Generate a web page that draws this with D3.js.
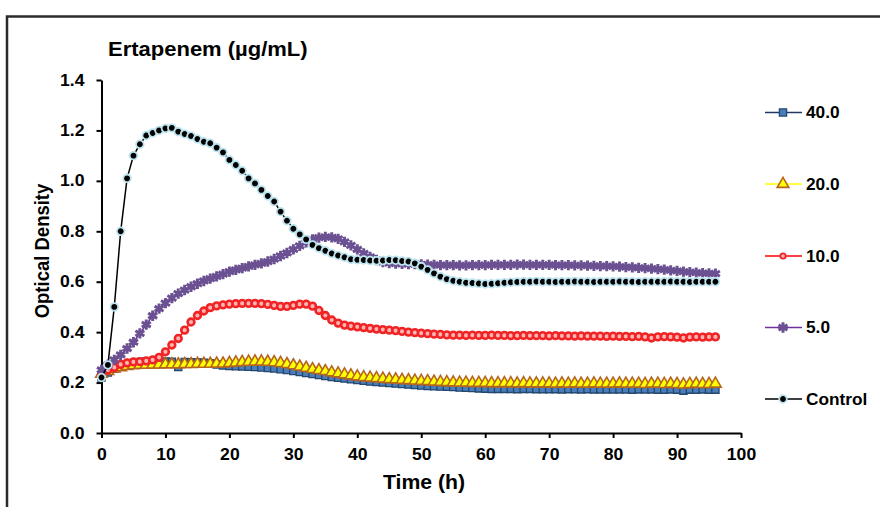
<!DOCTYPE html>
<html>
<head>
<meta charset="utf-8">
<script src="https://cdn.jsdelivr.net/npm/d3@7"></script>
<style>
  body { margin: 0; background: #fff; }
  text { font-family: "Liberation Sans", Arial, sans-serif; font-weight: bold; fill: #000; }
</style>
</head>
<body>
<div id="chart"></div>
<script>
// data, one reading per hour
const hours = [0,1,2,3,4,5,6,7,8,9,10,11,12,13,14,15,16,17,18,19,20,21,22,23,24,25,26,27,28,29,
  30,31,32,33,34,35,36,37,38,39,40,41,42,43,44,45,46,47,48,49,50,51,52,53,54,55,56,57,58,59,
  60,61,62,63,64,65,66,67,68,69,70,71,72,73,74,75,76,77,78,79,80,81,82,83,84,85,86,87,88,89,
  90,91,92,93,94,95,96];

const od40 = [0.22,0.24,0.255,0.265,0.272,0.278,0.282,0.284,0.285,0.285,
  0.284,0.283,0.262,0.282,0.281,0.28,0.279,0.277,0.272,0.268,
  0.266,0.265,0.264,0.263,0.262,0.26,0.258,0.256,0.253,0.25,
  0.246,0.242,0.238,0.234,0.23,0.226,0.222,0.219,0.216,0.213,
  0.21,0.207,0.204,0.202,0.2,0.198,0.196,0.194,0.192,0.19,
  0.188,0.186,0.185,0.184,0.183,0.182,0.18,0.179,0.178,0.177,
  0.176,0.175,0.175,0.175,0.175,0.174,0.175,0.175,0.174,0.174,
  0.174,0.174,0.173,0.174,0.174,0.173,0.174,0.173,0.173,0.173,
  0.173,0.173,0.173,0.172,0.173,0.173,0.173,0.172,0.172,0.173,
  0.172,0.168,0.172,0.172,0.173,0.172,0.172];

const od20 = [0.235,0.245,0.255,0.26,0.265,0.268,0.27,0.27,0.271,0.271,
  0.272,0.272,0.272,0.273,0.273,0.274,0.274,0.274,0.275,0.275,
  0.277,0.279,0.281,0.282,0.283,0.283,0.282,0.28,0.277,0.273,
  0.268,0.263,0.258,0.253,0.249,0.245,0.24,0.236,0.232,0.228,
  0.224,0.221,0.219,0.217,0.215,0.213,0.212,0.21,0.209,0.207,
  0.206,0.205,0.203,0.202,0.201,0.2,0.199,0.199,0.198,0.198,
  0.198,0.197,0.197,0.197,0.197,0.196,0.197,0.196,0.196,0.196,
  0.196,0.195,0.196,0.195,0.196,0.195,0.195,0.196,0.195,0.195,
  0.195,0.196,0.195,0.195,0.195,0.194,0.195,0.195,0.194,0.195,
  0.194,0.192,0.194,0.195,0.194,0.194,0.195];

const od10 = [0.23,0.25,0.26,0.272,0.278,0.282,0.283,0.286,0.29,0.30,
  0.322,0.349,0.375,0.408,0.44,0.466,0.484,0.497,0.504,0.508,
  0.511,0.513,0.514,0.514,0.514,0.513,0.51,0.506,0.502,0.502,
  0.506,0.511,0.511,0.503,0.486,0.466,0.448,0.436,0.428,0.424,
  0.421,0.418,0.415,0.412,0.41,0.408,0.406,0.403,0.40,0.398,
  0.396,0.394,0.392,0.391,0.389,0.388,0.388,0.387,0.388,0.387,
  0.387,0.388,0.387,0.387,0.386,0.386,0.387,0.386,0.386,0.386,
  0.385,0.386,0.385,0.385,0.384,0.385,0.384,0.384,0.384,0.383,
  0.384,0.383,0.383,0.382,0.383,0.381,0.377,0.381,0.382,0.381,
  0.38,0.377,0.38,0.381,0.38,0.381,0.381];

const od5 = [0.25,0.27,0.29,0.31,0.335,0.36,0.395,0.43,0.465,0.493,
  0.515,0.535,0.553,0.567,0.58,0.592,0.603,0.612,0.621,0.63,
  0.64,0.647,0.654,0.661,0.667,0.673,0.68,0.69,0.702,0.714,
  0.728,0.742,0.756,0.768,0.775,0.778,0.776,0.77,0.758,0.744,
  0.728,0.712,0.698,0.686,0.678,0.674,0.672,0.671,0.67,0.67,
  0.669,0.668,0.667,0.666,0.666,0.666,0.665,0.665,0.666,0.666,
  0.666,0.667,0.667,0.667,0.667,0.668,0.668,0.667,0.667,0.667,
  0.667,0.666,0.666,0.666,0.665,0.665,0.664,0.663,0.662,0.662,
  0.661,0.66,0.658,0.657,0.655,0.654,0.652,0.65,0.648,0.645,
  0.643,0.64,0.638,0.636,0.634,0.633,0.632];

const odControl = [0.22,0.27,0.50,0.80,1.01,1.10,1.145,1.18,1.19,1.20,
  1.208,1.21,1.195,1.186,1.178,1.166,1.155,1.149,1.132,1.113,
  1.083,1.063,1.04,1.01,0.99,0.964,0.94,0.918,0.878,0.842,
  0.81,0.788,0.768,0.746,0.733,0.723,0.712,0.704,0.697,0.689,
  0.687,0.686,0.684,0.683,0.684,0.686,0.685,0.682,0.68,0.673,
  0.66,0.647,0.633,0.62,0.61,0.604,0.60,0.596,0.595,0.593,
  0.591,0.592,0.594,0.596,0.598,0.599,0.600,0.600,0.601,0.600,
  0.600,0.599,0.600,0.600,0.601,0.600,0.600,0.599,0.600,0.600,
  0.600,0.601,0.600,0.600,0.599,0.600,0.600,0.600,0.600,0.601,
  0.600,0.600,0.599,0.600,0.600,0.600,0.600];

const seriesNames = ['40.0', '20.0', '10.0', '5.0', 'Control'];
const xTicks = [0,10,20,30,40,50,60,70,80,90,100];
const yTicks = [0,0.2,0.4,0.6,0.8,1.0,1.2,1.4];

// svg setup
const svgWidth = 880;
const svgHeight = 507;
const plot = {left: 101.5, right: 741, top: 80, bottom: 433};

const svg = d3.select('#chart').append('svg')
  .attr('width', svgWidth).attr('height', svgHeight);

// frame round the figure (only top and left edges fall inside the picture)
svg.append('path')
  .attr('d', `M7,507 V16.5 H880`)
  .attr('fill', 'none').attr('stroke', '#2b2b2b').attr('stroke-width', 2.5);

const x = d3.scaleLinear().domain([0, 100]).range([plot.left, plot.right]);
const y = d3.scaleLinear().domain([0, 1.4]).range([plot.bottom, plot.top]);

// axes
const xAxis = svg.append('g')
  .attr('transform', `translate(0, ${plot.bottom})`)
  .call(d3.axisBottom(x).tickValues(xTicks).tickFormat(d3.format('d')).tickSize(5).tickSizeOuter(0).tickPadding(11));

const yAxis = svg.append('g')
  .attr('transform', `translate(${plot.left}, 0)`)
  .call(d3.axisLeft(y).tickValues(yTicks).tickFormat(d3.format('.1f')).tickSize(5).tickSizeOuter(0).tickPadding(10.5));

[xAxis, yAxis].forEach(ax => {
  ax.select('.domain').attr('stroke', '#000').attr('stroke-width', 2);
  ax.selectAll('.tick line').attr('stroke', '#000').attr('stroke-width', 2);
  ax.selectAll('.tick text')
    .attr('font-family', '"Liberation Sans", Arial, sans-serif')
    .attr('font-weight', 'bold')
    .attr('font-size', 16)
    .attr('fill', '#000')
    .attr('transform', 'scale(1.1,1)');
});

// series styles
const styles = {
  '40.0':    {line: '#1f3864', symbol: d3.symbolSquare,   size: 52, fill: '#4a7ebb', stroke: '#24476f', sw: 1.3},
  '20.0':    {line: '#ffff00', symbol: d3.symbolTriangle, size: 58, fill: '#ffff00', stroke: '#b5651d', sw: 1.6},
  '10.0':    {line: '#ff0000', symbol: d3.symbolCircle,   size: 36, fill: '#ffb4b4', stroke: '#f02424', sw: 2.6},
  '5.0':     {line: '#7030a0', symbol: d3.symbolAsterisk, size: 75, fill: 'none',    stroke: '#6b5192', sw: 3},
  'Control': {line: '#000000', symbol: d3.symbolCircle,   size: 46, fill: '#000',    stroke: '#bde4ee', sw: 1.8}
};

const seriesValues = [od40, od20, od10, od5, odControl];

const lineGen = d3.line()
  .x(d => x(d.t))
  .y(d => y(d.v));

seriesNames.forEach((name, i) => {
  const st = styles[name];
  const pts = hours.map((t, j) => ({t: t, v: seriesValues[i][j]}));
  const g = svg.append('g').attr('class', 'series');

  g.append('path')
    .datum(pts)
    .attr('d', lineGen)
    .attr('fill', 'none')
    .attr('stroke', st.line)
    .attr('stroke-width', 1.5);

  g.selectAll('path.marker')
    .data(pts)
    .enter()
    .append('path')
    .attr('class', 'marker')
    .attr('transform', d => `translate(${x(d.t)}, ${y(d.v)})`)
    .attr('d', d3.symbol().type(st.symbol).size(st.size))
    .attr('fill', st.fill)
    .attr('stroke', st.stroke)
    .attr('stroke-width', st.sw);
});

// legend
const legendRows = [112.5, 184, 256, 327.5, 399];
const legend = svg.append('g');
seriesNames.forEach((name, i) => {
  const st = styles[name];
  const row = legend.append('g').attr('transform', `translate(0, ${legendRows[i]})`);
  row.append('line')
    .attr('x1', 765).attr('x2', 802).attr('y1', 0).attr('y2', 0)
    .attr('stroke', st.line).attr('stroke-width', 1.5);
  row.append('path')
    .attr('transform', 'translate(783, 0)')
    .attr('d', d3.symbol().type(st.symbol).size(name === '10.0' ? 22 : st.size))
    .attr('fill', st.fill)
    .attr('stroke', st.stroke)
    .attr('stroke-width', name === '10.0' ? 1.8 : st.sw);
  row.append('text')
    .attr('transform', 'translate(806, 5.8) scale(1.08,1)')
    .attr('font-size', 16)
    .text(name);
});

// titles
svg.append('text')
  .attr('transform', 'translate(108, 55.5) scale(1.1,1)')
  .attr('font-size', 20)
  .text('Ertapenem (µg/mL)');

svg.append('text')
  .attr('transform', 'translate(424, 489) scale(1.09,1)')
  .attr('text-anchor', 'middle')
  .attr('font-size', 19.5)
  .text('Time (h)');

svg.append('text')
  .attr('transform', 'translate(49, 251) rotate(-90) scale(1,1.1)')
  .attr('text-anchor', 'middle')
  .attr('font-size', 18.5)
  .text('Optical Density');
</script>
</body>
</html>
